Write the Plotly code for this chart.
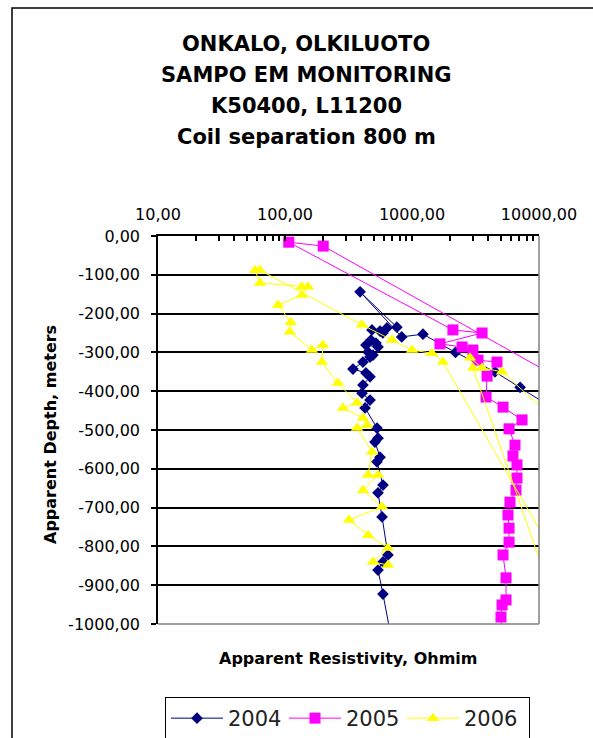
import plotly.graph_objects as go

# Apparent resistivity (ohm-m) and apparent depth (m) per survey year
res_2004 = [30000, 7100, 4500, 2200, 1220, 830, 390, 760, 635, 560,
            590, 484, 475, 520, 540, 434, 450, 493, 467, 411,
            343, 434, 467, 411, 404, 467, 427, 530, 540, 511,
            560, 530, 591, 540, 581, 647, 591, 540, 591, 690]
dep_2004 = [-520, -390, -350, -300, -253, -260, -144, -235, -237, -245,
            -250, -242, -268, -276, -286, -281, -299, -307, -312, -325,
            -343, -353, -363, -384, -405, -423, -443, -495, -521, -531,
            -570, -582, -642, -662, -724, -822, -840, -861, -923, -1040]

res_2005 = [30000, 200, 107, 2100, 3560, 1660, 2480, 3020, 3310, 4670,
            3900, 3830, 5210, 7350, 5810, 6470, 6240, 6710, 6710, 6590,
            5910, 5700, 5810, 5810, 5210, 5500, 5500, 5120, 5020, 5100]
dep_2005 = [-425, -26, -16, -242, -250, -278, -286, -294, -320, -325,
            -361, -415, -441, -474, -497, -539, -567, -590, -624, -655,
            -686, -719, -753, -789, -822, -881, -938, -951, -982, -1040]

res_2006 = [30000, 5120, 3560, 2860, 3020, 30000, 30000, 1754, 1435, 1000,
            697, 404, 63.5, 58, 63.5, 136, 152, 136, 88, 111,
            109, 163, 199, 195, 261, 369, 286, 411, 443, 369,
            484, 451, 540, 411, 581, 319, 451, 647, 493, 647]
dep_2006 = [-577, -350, -340, -314, -340, -1280, -1025, -325, -302, -294,
            -268, -229, -88, -88, -121, -131, -131, -152, -178, -222,
            -247, -294, -281, -325, -379, -430, -443, -469, -487, -495,
            -557, -616, -616, -655, -698, -732, -771, -804, -840, -848]

x_ticks = [10, 100, 1000, 10000]
x_ticktext = ["10,00", "100,00", "1000,00", "10000,00"]
y_ticks = list(range(0, -1001, -100))
y_ticktext = [f"{v},00" for v in y_ticks]

title_lines = ["ONKALO, OLKILUOTO", "SAMPO EM MONITORING",
               "K50400, L11200", "Coil separation 800 m"]

W, H = 593, 738
L, R, T, B = 158, 539, 236, 624
FONT = "DejaVu Sans"


def px(x):
    return (x - L) / (R - L)


def py(y):
    return (B - y) / (B - T)


series = [
    ("2004", res_2004, dep_2004, "#000080", "diamond", 9, None),
    ("2005", res_2005, dep_2005, "#FF00FF", "square", 11, None),
    ("2006", res_2006, dep_2006, "#FFFF00", "triangle-up", 11, 60),
]

fig = go.Figure()
for name, xs, ys, color, symbol, size, lw in series:
    fig.add_trace(go.Scatter(
        x=xs, y=ys, name=name, mode="lines+markers",
        line=dict(color=color, width=1),
        marker=dict(symbol=symbol, size=size, color=color, line=dict(width=0)),
        legendwidth=lw,
    ))

minor_vals = [k * 10 ** e for e in (1, 2, 3) for k in range(2, 10)]

fig.update_xaxes(
    type="log", range=[1, 4], side="top",
    showline=True, linecolor="black", linewidth=1.5,
    ticks="inside", ticklen=5, tickcolor="black", tickwidth=1.5,
    tickvals=x_ticks, ticktext=x_ticktext, ticklabelstandoff=8,
    minor=dict(ticks="inside", ticklen=5, tickcolor="black", tickwidth=1.5,
               tickvals=minor_vals, showgrid=False),
    showgrid=False, zeroline=False, automargin=False,
    tickfont=dict(family=FONT, size=16, color="black"),
)
fig.update_yaxes(
    range=[-1000, 0],
    showline=True, linecolor="black", linewidth=1.5,
    ticks="outside", ticklen=5, tickcolor="black", tickwidth=1.5,
    tickvals=y_ticks, ticktext=y_ticktext, ticklabelstandoff=8,
    showgrid=True, gridcolor="black", gridwidth=1.6, zeroline=False,
    automargin=False,
    tickfont=dict(family=FONT, size=16, color="black"),
)

annotations = []
for i, line in enumerate(title_lines):
    annotations.append(dict(
        text=f"<b>{line}</b>", xref="paper", yref="paper",
        x=px(306), y=py(44 + 31 * i), xanchor="center", yanchor="middle",
        showarrow=False, font=dict(family=FONT, size=21, color="black"),
    ))
annotations.append(dict(
    text="<b>Apparent Resistivity, Ohmim</b>", xref="paper", yref="paper",
    x=px(348), y=py(658), xanchor="center", yanchor="middle",
    showarrow=False, font=dict(family=FONT, size=16, color="black"),
))
annotations.append(dict(
    text="<b>Apparent Depth, meters</b>", xref="paper", yref="paper",
    x=px(50), y=py(435), xanchor="center", yanchor="middle", textangle=-90,
    showarrow=False, font=dict(family=FONT, size=16, color="black"),
))

shapes = [
    # outer chart frame
    dict(type="rect", xref="paper", yref="paper",
         x0=px(12), x1=px(700), y0=py(8), y1=py(900),
         line=dict(color="black", width=1.5), fillcolor="rgba(0,0,0,0)"),
    # grey right and bottom edges of the plot area
    dict(type="line", xref="paper", yref="paper", x0=1, x1=1, y0=0, y1=1,
         line=dict(color="#808080", width=1.5)),
    dict(type="line", xref="paper", yref="paper", x0=0, x1=1, y0=0, y1=0,
         line=dict(color="#808080", width=1.5)),
]

fig.update_layout(
    width=W, height=H,
    margin=dict(l=L, r=W - R, t=T, b=H - B, autoexpand=False),
    paper_bgcolor="white", plot_bgcolor="white",
    annotations=annotations, shapes=shapes,
    showlegend=True,
    legend=dict(
        orientation="h", xref="container", yref="container",
        x=165 / W, y=1 - 697 / H, xanchor="left", yanchor="top",
        bordercolor="black", borderwidth=1, bgcolor="white",
        font=dict(family=FONT, size=21, color="#222222"),
        itemwidth=52, entrywidth=51,
    ),
)

fig.write_html("out.html")
